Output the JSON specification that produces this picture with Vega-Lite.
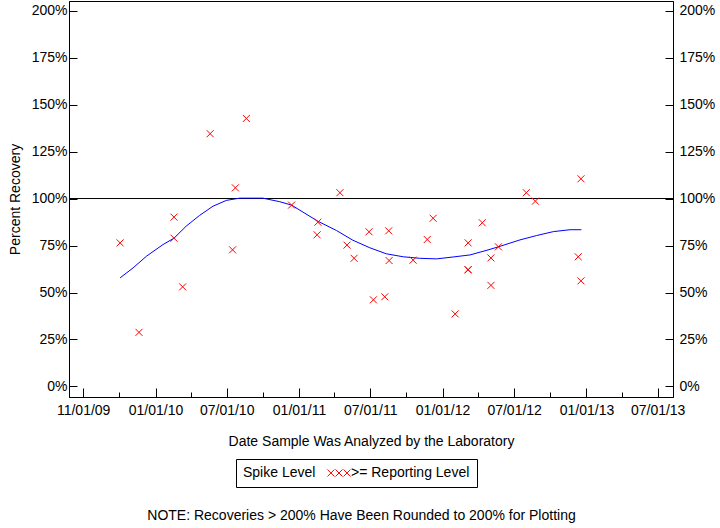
{
  "$schema": "https://vega.github.io/schema/vega-lite/v6.json",
  "width": 604,
  "height": 396,
  "autosize": {"type": "none"},
  "padding": {"left": 69, "top": 1, "right": 47, "bottom": 131},
  "background": "white",
  "config": {
    "font": "Liberation Sans",
    "view": {"stroke": "black", "strokeWidth": 1},
    "axis": {
      "grid": false,
      "domainColor": "black",
      "tickColor": "black",
      "labelColor": "black",
      "titleColor": "black",
      "labelFont": "Liberation Sans",
      "titleFont": "Liberation Sans",
      "labelFontSize": 14,
      "titleFontSize": 14,
      "titleFontWeight": "normal"
    }
  },
  "title": {
    "text": "NOTE: Recoveries > 200% Have Been Rounded to 200% for Plotting",
    "orient": "bottom",
    "anchor": "middle",
    "frame": "bounds",
    "font": "Liberation Sans",
    "fontSize": 14,
    "fontWeight": "normal",
    "color": "black",
    "offset": 21
  },
  "datasets": {
    "ref": [{"pct": 100}],
    "fit": [
      {"date": "2009-10-03", "pct": 57.8},
      {"date": "2009-11-05", "pct": 63.1},
      {"date": "2009-12-09", "pct": 69.3},
      {"date": "2010-01-20", "pct": 75.5},
      {"date": "2010-02-17", "pct": 78.9},
      {"date": "2010-03-20", "pct": 85.3},
      {"date": "2010-04-23", "pct": 91.0},
      {"date": "2010-05-27", "pct": 95.9},
      {"date": "2010-06-30", "pct": 99.0},
      {"date": "2010-08-03", "pct": 100.2},
      {"date": "2010-10-01", "pct": 100.2},
      {"date": "2010-11-13", "pct": 98.3},
      {"date": "2010-12-13", "pct": 96.5},
      {"date": "2011-02-18", "pct": 87.9},
      {"date": "2011-04-06", "pct": 83.0},
      {"date": "2011-05-18", "pct": 77.8},
      {"date": "2011-06-30", "pct": 73.8},
      {"date": "2011-08-11", "pct": 70.6},
      {"date": "2011-09-23", "pct": 69.0},
      {"date": "2011-11-04", "pct": 68.2},
      {"date": "2011-12-17", "pct": 67.9},
      {"date": "2012-01-28", "pct": 68.9},
      {"date": "2012-03-11", "pct": 70.0},
      {"date": "2012-04-23", "pct": 72.5},
      {"date": "2012-05-22", "pct": 74.3},
      {"date": "2012-07-16", "pct": 78.0},
      {"date": "2012-08-27", "pct": 80.3},
      {"date": "2012-10-09", "pct": 82.4},
      {"date": "2012-11-20", "pct": 83.4},
      {"date": "2012-12-19", "pct": 83.4}
    ],
    "pts": [
      {"date": "2009-10-03", "pct": 76.4, "level": ">= Reporting Level"},
      {"date": "2009-11-20", "pct": 28.8, "level": ">= Reporting Level"},
      {"date": "2010-02-17", "pct": 90.1, "level": ">= Reporting Level"},
      {"date": "2010-02-17", "pct": 78.9, "level": ">= Reporting Level"},
      {"date": "2010-03-11", "pct": 53.0, "level": ">= Reporting Level"},
      {"date": "2010-05-20", "pct": 134.5, "level": ">= Reporting Level"},
      {"date": "2010-07-16", "pct": 72.7, "level": ">= Reporting Level"},
      {"date": "2010-07-23", "pct": 105.7, "level": ">= Reporting Level"},
      {"date": "2010-08-20", "pct": 142.6, "level": ">= Reporting Level"},
      {"date": "2010-12-13", "pct": 96.5, "level": ">= Reporting Level"},
      {"date": "2011-02-16", "pct": 80.7, "level": ">= Reporting Level"},
      {"date": "2011-02-18", "pct": 87.4, "level": ">= Reporting Level"},
      {"date": "2011-04-15", "pct": 103.1, "level": ">= Reporting Level"},
      {"date": "2011-05-03", "pct": 75.2, "level": ">= Reporting Level"},
      {"date": "2011-05-21", "pct": 68.2, "level": ">= Reporting Level"},
      {"date": "2011-06-28", "pct": 82.3, "level": ">= Reporting Level"},
      {"date": "2011-07-09", "pct": 46.1, "level": ">= Reporting Level"},
      {"date": "2011-08-07", "pct": 47.7, "level": ">= Reporting Level"},
      {"date": "2011-08-17", "pct": 82.8, "level": ">= Reporting Level"},
      {"date": "2011-08-18", "pct": 67.0, "level": ">= Reporting Level"},
      {"date": "2011-10-18", "pct": 67.2, "level": ">= Reporting Level"},
      {"date": "2011-11-23", "pct": 78.2, "level": ">= Reporting Level"},
      {"date": "2011-12-08", "pct": 89.5, "level": ">= Reporting Level"},
      {"date": "2012-02-02", "pct": 38.6, "level": ">= Reporting Level"},
      {"date": "2012-03-06", "pct": 76.4, "level": ">= Reporting Level"},
      {"date": "2012-03-06", "pct": 62.2, "level": ">= Reporting Level"},
      {"date": "2012-03-06", "pct": 62.0, "level": ">= Reporting Level"},
      {"date": "2012-04-11", "pct": 87.1, "level": ">= Reporting Level"},
      {"date": "2012-05-03", "pct": 68.4, "level": ">= Reporting Level"},
      {"date": "2012-05-03", "pct": 53.8, "level": ">= Reporting Level"},
      {"date": "2012-05-22", "pct": 74.3, "level": ">= Reporting Level"},
      {"date": "2012-08-01", "pct": 103.1, "level": ">= Reporting Level"},
      {"date": "2012-08-24", "pct": 98.6, "level": ">= Reporting Level"},
      {"date": "2012-12-11", "pct": 69.0, "level": ">= Reporting Level"},
      {"date": "2012-12-18", "pct": 110.5, "level": ">= Reporting Level"},
      {"date": "2012-12-18", "pct": 56.2, "level": ">= Reporting Level"}
    ]
  },
  "resolve": {"axis": {"x": "independent", "y": "independent"}},
  "layer": [
    {
      "data": {"name": "ref"},
      "mark": {"type": "rule", "color": "black", "strokeWidth": 1},
      "encoding": {
        "y": {
          "field": "pct",
          "type": "quantitative",
          "scale": {"domain": [-5.6, 205.1], "nice": false, "zero": false},
          "axis": {
            "orient": "left",
            "values": [0, 25, 50, 75, 100, 125, 150, 175, 200],
            "labelExpr": "datum.value + '%'",
            "tickSize": -8,
            "labelPadding": 10,
            "title": "Percent Recovery",
            "titlePadding": 9
          }
        }
      }
    },
    {
      "data": {"name": "fit"},
      "mark": {"type": "line", "color": "#0000FF", "strokeWidth": 1},
      "encoding": {
        "x": {
          "field": "date",
          "type": "temporal",
          "scale": {
            "type": "utc",
            "domain": [
              {"year": 2009, "month": 5, "date": 26, "utc": true},
              {"year": 2013, "month": 8, "date": 9, "utc": true}
            ]
          },
          "axis": {
            "orient": "bottom",
            "values": [
              {"year": 2009, "month": 7, "date": 1, "utc": true},
              {"year": 2010, "month": 1, "date": 1, "utc": true},
              {"year": 2010, "month": 7, "date": 1, "utc": true},
              {"year": 2011, "month": 1, "date": 1, "utc": true},
              {"year": 2011, "month": 7, "date": 1, "utc": true},
              {"year": 2012, "month": 1, "date": 1, "utc": true},
              {"year": 2012, "month": 7, "date": 1, "utc": true},
              {"year": 2013, "month": 1, "date": 1, "utc": true},
              {"year": 2013, "month": 7, "date": 1, "utc": true}
            ],
            "labelExpr": "datum.value < 1251763200000 ? '11/01/09' : utcFormat(datum.value, '%m/%d/%y')",
            "tickSize": -9,
            "labelPadding": 15,
            "title": "Date Sample Was Analyzed by the Laboratory",
            "titlePadding": 17
          }
        },
        "y": {
          "field": "pct",
          "type": "quantitative",
          "scale": {"domain": [-5.6, 205.1], "nice": false, "zero": false},
          "axis": {
            "orient": "right",
            "values": [0, 25, 50, 75, 100, 125, 150, 175, 200],
            "labelExpr": "datum.value + '%'",
            "tickSize": -8,
            "labelPadding": 14,
            "title": null
          }
        }
      }
    },
    {
      "data": {"name": "pts"},
      "mark": {
        "type": "point",
        "shape": "M-1,-1L1,1M-1,1L1,-1",
        "size": 49,
        "filled": false,
        "strokeWidth": 1,
        "opacity": 1
      },
      "encoding": {
        "x": {
          "field": "date",
          "type": "temporal",
          "scale": {
            "type": "utc",
            "domain": [
              {"year": 2009, "month": 5, "date": 26, "utc": true},
              {"year": 2013, "month": 8, "date": 9, "utc": true}
            ]
          },
          "axis": {
            "orient": "bottom",
            "values": [
              {"year": 2009, "month": 10, "date": 1, "utc": true},
              {"year": 2010, "month": 4, "date": 1, "utc": true},
              {"year": 2010, "month": 10, "date": 1, "utc": true},
              {"year": 2011, "month": 4, "date": 1, "utc": true},
              {"year": 2011, "month": 10, "date": 1, "utc": true},
              {"year": 2012, "month": 4, "date": 1, "utc": true},
              {"year": 2012, "month": 10, "date": 1, "utc": true},
              {"year": 2013, "month": 4, "date": 1, "utc": true}
            ],
            "labels": false,
            "domain": false,
            "tickSize": -5,
            "title": null
          }
        },
        "y": {
          "field": "pct",
          "type": "quantitative",
          "scale": {"domain": [-5.6, 205.1], "nice": false, "zero": false},
          "axis": null
        },
        "color": {
          "field": "level",
          "type": "nominal",
          "scale": {"range": ["#FF0000"]},
          "legend": {
            "orient": "none",
            "legendX": 167,
            "legendY": 458,
            "direction": "horizontal",
            "title": "Spike Level",
            "titleOrient": "left",
            "titleFont": "Liberation Sans",
            "titleFontSize": 14,
            "titleFontWeight": "normal",
            "titleColor": "black",
            "titlePadding": 10,
            "labelFont": "Liberation Sans",
            "labelFontSize": 14,
            "labelColor": "black",
            "strokeColor": "black",
            "padding": 7,
            "symbolType": "M-3.3,-1L-1.3,1M-3.3,1L-1.3,-1M-1,-1L1,1M-1,1L1,-1M1.3,-1L3.3,1M1.3,1L3.3,-1",
            "symbolSize": 49,
            "symbolStrokeWidth": 1,
            "symbolOffset": 6,
            "labelOffset": 5
          }
        }
      }
    }
  ]
}
